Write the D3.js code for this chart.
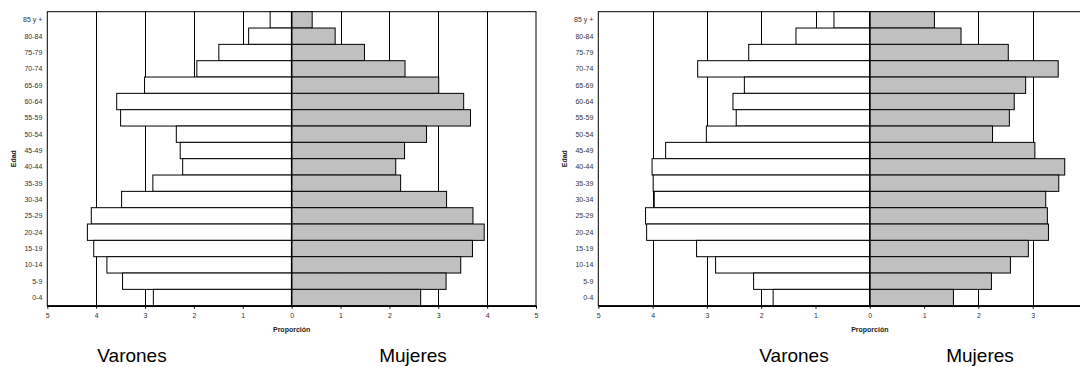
<!DOCTYPE html>
<html>
<head>
<meta charset="utf-8">
<script src="https://cdn.jsdelivr.net/npm/d3@7"></script>
<style>
  html, body { margin: 0; padding: 0; background: #fff; overflow: hidden; }
  svg { display: block; font-family: "Liberation Sans", Arial, sans-serif; }
</style>
</head>
<body>
<svg id="chart" width="1080" height="367"></svg>
<script>
// Age groups (top to bottom)
const ageGroups = ["85 y +","80-84","75-79","70-74","65-69","60-64","55-59","50-54","45-49","40-44","35-39","30-34","25-29","20-24","15-19","10-14","5-9","0-4"];

// Left pyramid
const leftVarones = [0.44,0.88,1.49,1.94,3.01,3.58,3.50,2.36,2.28,2.23,2.84,3.48,4.10,4.18,4.05,3.78,3.46,2.83];
const leftMujeres = [0.42,0.89,1.49,2.32,3.01,3.52,3.66,2.76,2.31,2.13,2.23,3.17,3.71,3.94,3.70,3.46,3.16,2.64];

// Right pyramid
const rightVarones = [0.66,1.36,2.23,3.17,2.31,2.52,2.46,3.01,3.76,4.01,3.99,3.97,4.13,4.11,3.19,2.84,2.14,1.78];
const rightMujeres = [1.19,1.68,2.55,3.47,2.87,2.66,2.57,2.26,3.04,3.59,3.48,3.24,3.27,3.29,2.92,2.59,2.24,1.54];

const tickValues = [-5,-4,-3,-2,-1,0,1,2,3,4,5];
const tickLabels = ["5","4","3","2","1","0","1","2","3","4","5"];
const xTitle = "Proporción";
const yTitle = "Edad";
const maleLabel = "Varones";
const femaleLabel = "Mujeres";

const W = 1080;
const svg = d3.select("#chart");

function pyramid(cfg) {
  const g = svg.append("g");
  const x = d3.scaleLinear().domain([-5, 5]).range([cfg.left, cfg.right]);
  const y = d3.scaleBand().domain(ageGroups).range([cfg.top, cfg.bottom]).padding(0);

  // plot frame
  g.append("rect")
    .attr("x", x(-5)).attr("y", cfg.top)
    .attr("width", x(5) - x(-5)).attr("height", cfg.bottom - cfg.top)
    .attr("fill", "#fff").attr("stroke", "#000").attr("stroke-width", 1);

  // gridlines
  g.selectAll("line.grid").data(tickValues.filter(v => v !== -5 && v !== 5 && v !== 0))
    .join("line").attr("class", "grid")
    .attr("x1", d => Math.round(x(d)) + 0.5).attr("x2", d => Math.round(x(d)) + 0.5)
    .attr("y1", cfg.top).attr("y2", cfg.bottom)
    .attr("stroke", "#000").attr("stroke-width", 1);

  const zero = x(0);
  // male bars
  g.selectAll("rect.m").data(cfg.males)
    .join("rect").attr("class", "m")
    .attr("x", d => x(-d)).attr("y", (d, i) => y(ageGroups[i]))
    .attr("width", d => zero - x(-d)).attr("height", y.bandwidth())
    .attr("fill", "#fff").attr("stroke", "#000").attr("stroke-width", 1);
  // female bars
  g.selectAll("rect.f").data(cfg.females)
    .join("rect").attr("class", "f")
    .attr("x", zero).attr("y", (d, i) => y(ageGroups[i]))
    .attr("width", d => x(d) - zero).attr("height", y.bandwidth())
    .attr("fill", "#c0c0c0").attr("stroke", "#000").attr("stroke-width", 1);

  // zero line
  g.append("line").attr("x1", zero).attr("x2", zero)
    .attr("y1", cfg.top).attr("y2", cfg.bottom)
    .attr("stroke", "#000").attr("stroke-width", 1.5);

  // x axis (only ticks that fall inside the visible page)
  const visible = tickValues.map((v, i) => ({ v, i })).filter(o => x(o.v) < W - 3);
  const xAxis = d3.axisBottom(x).tickValues(visible.map(o => o.v))
    .tickFormat(d => tickLabels[tickValues.indexOf(d)]).tickSize(3).tickPadding(4).tickSizeOuter(0);
  const ax = g.append("g").attr("transform", `translate(0,${cfg.bottom})`).call(xAxis);
  ax.select(".domain").attr("stroke", "#000").attr("stroke-width", 1.5);
  ax.selectAll(".tick line").attr("stroke", "#000");
  ax.selectAll(".tick text").attr("font-size", 7).attr("fill", "#333")
    .attr("font-family", "Liberation Sans, Arial, sans-serif");

  // y labels
  g.selectAll("text.age").data(ageGroups).join("text").attr("class", "age")
    .attr("x", cfg.left - 5).attr("y", d => y(d) + y.bandwidth() / 2)
    .attr("dy", "0.35em").attr("text-anchor", "end")
    .attr("font-size", 7).attr("fill", "#333").text(d => d);

  // axis titles
  g.append("text").attr("x", zero).attr("y", cfg.bottom + 26)
    .attr("text-anchor", "middle").attr("font-size", 7).attr("font-weight", "bold")
    .attr("fill", "#222").text(xTitle);
  g.append("text")
    .attr("transform", `translate(${cfg.yTitleX},${(cfg.top + cfg.bottom) / 2}) rotate(-90)`)
    .attr("text-anchor", "middle").attr("font-size", 7).attr("font-weight", "bold")
    .attr("fill", "#222").text(yTitle);

  // group labels
  g.append("text").attr("x", cfg.maleX).attr("y", cfg.bottom + 56)
    .attr("text-anchor", "middle").attr("font-size", 19).attr("fill", "#000").text(maleLabel);
  g.append("text").attr("x", cfg.femaleX).attr("y", cfg.bottom + 56)
    .attr("text-anchor", "middle").attr("font-size", 19).attr("fill", "#000").text(femaleLabel);
}

pyramid({ left: 47.3, right: 536, top: 11.7, bottom: 305.7, males: leftVarones, females: leftMujeres,
          yTitleX: 16, maleX: 132, femaleX: 413 });
pyramid({ left: 598.3, right: 1141.3, top: 11.7, bottom: 305.7, males: rightVarones, females: rightMujeres,
          yTitleX: 567, maleX: 794, femaleX: 980 });
</script>
</body>
</html>
